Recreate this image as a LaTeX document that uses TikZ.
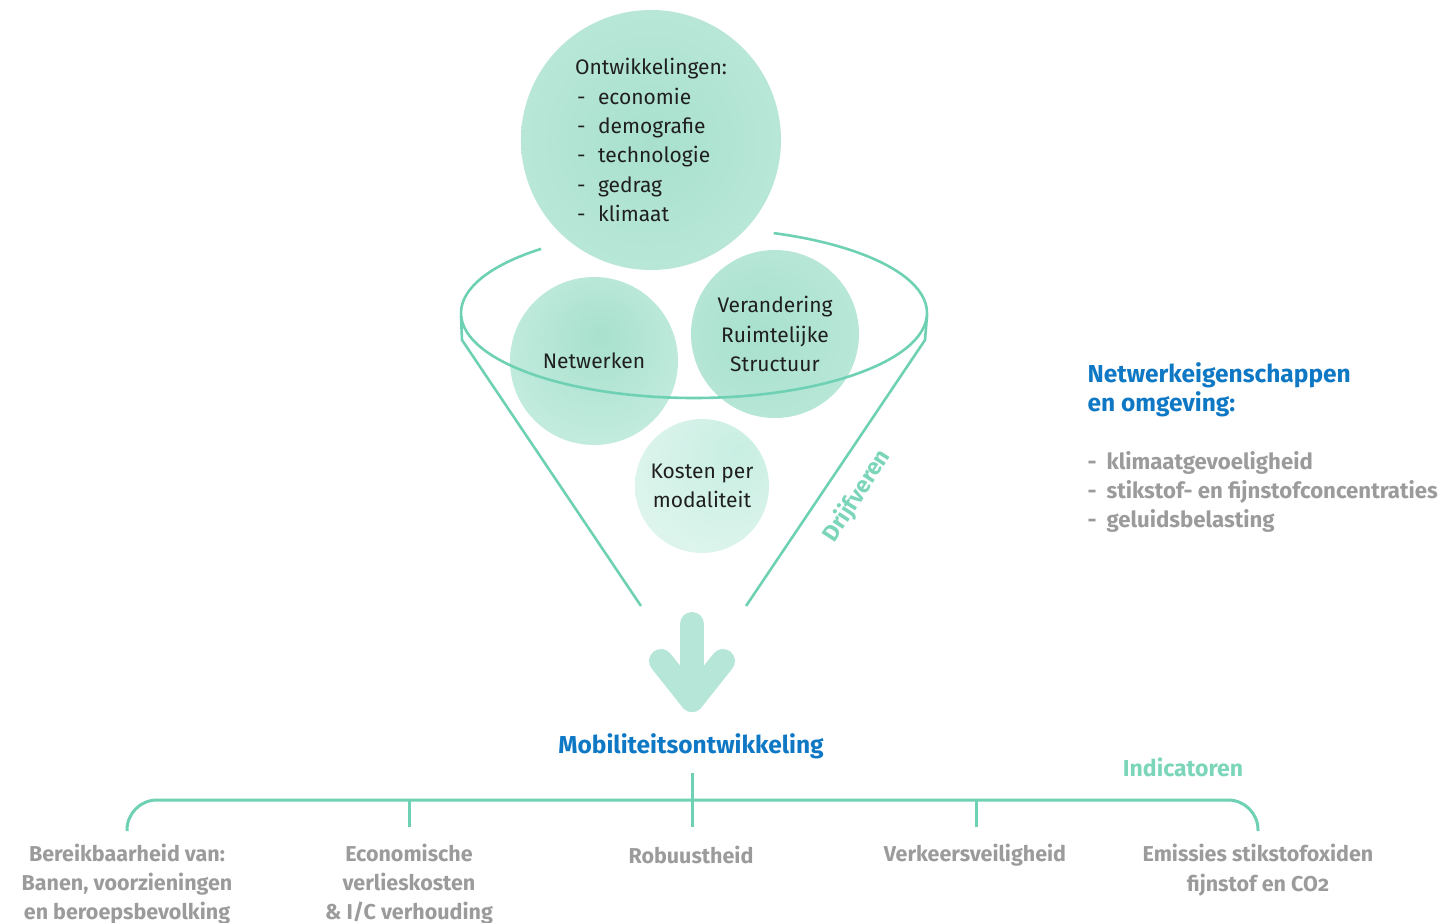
\documentclass[tikz,border=0pt]{standalone}
\usepackage{fontspec}
\setmainfont{Fira Sans}
\usetikzlibrary{calc}
\definecolor{mintline}{HTML}{6FD1B3}
\definecolor{minttext}{HTML}{7BD5B9}
\definecolor{mintarrow}{HTML}{B6E6D7}
\definecolor{roblue}{HTML}{0F78C5}
\definecolor{rogray}{HTML}{9B9B9B}
\definecolor{bubdark}{HTML}{A8E0CD}
\definecolor{bubmid}{HTML}{C8EEE2}
\definecolor{bublight}{HTML}{EAF8F3}
\pgfdeclareradialshading{ontwshade}{\pgfpoint{0bp}{0bp}}{color(0bp)=(bubdark); color(50bp)=(bubmid)}
\pgfdeclareradialshading{netshade}{\pgfpoint{2bp}{8bp}}{color(0bp)=(bubdark); color(36bp)=(bubmid); color(64bp)=(bublight)}
\pgfdeclareradialshading{rsshade}{\pgfpoint{-6bp}{0bp}}{color(0bp)=(bubdark); color(56bp)=(bubmid)}
\pgfdeclareradialshading{kostshade}{\pgfpoint{14bp}{14bp}}{color(0bp)=(bubmid); color(70bp)=(bublight!60!white)}
\newcommand{\listdash}[2][2pt]{\makebox[#2][l]{\hspace{#1}-}}
\tikzset{
  every node/.style={font=\fontsize{21}{29.3}\selectfont},
  bubble/.style={circle, inner sep=0pt, text=black!88},
  funnel/.style={draw=mintline, line width=2.6pt},
  tree/.style={draw=mintline, line width=3pt},
  bigarrow/.style={draw=mintarrow, line width=24pt, line cap=round, line join=round},
  kop/.style={text=roblue, font=\fontsize{24.5}{29.3}\selectfont\bfseries},
  grijs/.style={text=rogray, font=\fontsize{21.5}{29.3}\selectfont\bfseries},
  lijst/.style={text=rogray, font=\fontsize{22.2}{29.3}\selectfont\bfseries},
  minttxt/.style={text=minttext, font=\fontsize{23}{29.3}\selectfont\bfseries}
}

\begin{document}
\begin{tikzpicture}[x=1pt,y=-1pt]
	\useasboundingbox (0,0) rectangle (1456,923);
	% drijfveren in de trechter
	\node[bubble, minimum size=168, shading=netshade] (netw) at (594,361) {Netwerken};
	\node[bubble, minimum size=168, shading=rsshade, align=center] (ruimte) at (775,334) {Verandering\\Ruimtelijke\\Structuur};
	\node[bubble, minimum size=134, shading=kostshade, align=center] (kosten) at (702,486) {Kosten per\\modaliteit};
	\node[bubble, minimum size=260, shading=ontwshade, align=left] (ontw) at (651,140) {Ontwikkelingen:\\
		\listdash{23pt}economie\\
		\listdash{23pt}demografie\\
		\listdash{23pt}technologie\\
		\listdash{23pt}gedrag\\
		\listdash{23pt}klimaat};
	% trechter
	\draw[funnel] (694,313) ++(-131:233 and 85) arc[start angle=-131, end angle=-430, x radius=233, y radius=85];
	\draw[funnel] (461,316) -- (462,340) -- (641,606);
	\draw[funnel] (927,316) -- (925,340) -- (746,606);
	\node[minttxt, rotate=57] (drijf) at (857,496) {Drijfveren};
	% pijl
	\coordinate (pijltop) at (692,624);
	\coordinate (pijlpunt) at (692,700);
	\draw[bigarrow] (pijltop) -- (pijlpunt);
	\draw[bigarrow] ($(pijlpunt)+(-31,-39)$) -- (pijlpunt) -- ($(pijlpunt)+(31,-39)$);
	\node[kop] (mobi) at (691,746) {Mobiliteitsontwikkeling};
	\node[minttxt] (indic) at (1183,767) {Indicatoren};
	% indicatoren
	\draw[tree, rounded corners=30] (127,831) -- (127,800) -- (1258,800) -- (1258,831);
	\draw[tree] (692,773) -- (692,827);
	\draw[tree] (409,800) -- (409,827);
	\draw[tree] (976,800) -- (976,827);
	\node[grijs, align=center] (bereik) at (127,884) {Bereikbaarheid van:\\Banen, voorzieningen\\en beroepsbevolking};
	\node[grijs, align=center] (econ) at (409,884) {Economische\\verlieskosten\\\& I/C verhouding};
	\node[grijs] (robuust) at (691,855) {Robuustheid};
	\node[grijs] (veilig) at (975,855) {Verkeersveiligheid};
	\node[grijs, align=center] (emissie) at (1258,870) {Emissies stikstofoxiden\\fijnstof en CO{\addfontfeatures{Numbers=OldStyle}2}};
	% netwerk en omgeving
	\node[kop, anchor=west, align=left] (netkop) at (1084,390) {Netwerkeigenschappen\\en omgeving:};
	\node[lijst, anchor=west, align=left] (netlijst) at (1084,492) {\listdash[0pt]{19pt}klimaatgevoeligheid\\
		\listdash[0pt]{19pt}stikstof- en fijnstofconcentraties\\
		\listdash[0pt]{19pt}geluidsbelasting};
\end{tikzpicture}
\end{document}
